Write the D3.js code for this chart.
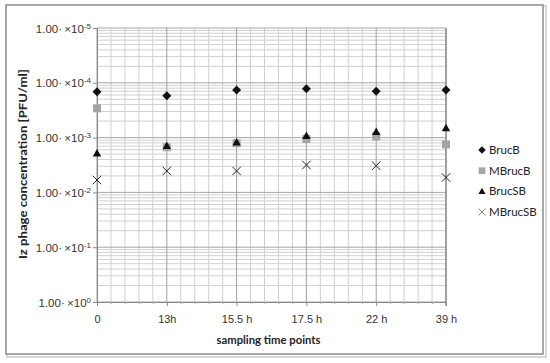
<!DOCTYPE html>
<html>
<head>
<meta charset="utf-8">
<script src="https://cdn.jsdelivr.net/npm/d3@7"></script>
<style>
  body { margin: 0; background: #fff; }
  svg { display: block; }
</style>
</head>
<body>
<div id="chart"></div>
<script>
// values
const categories = ['0', '13h', '15.5 h', '17.5 h', '22 h', '39 h'];
const brucB   = [1.45e-4, 1.72e-4, 1.35e-4, 1.28e-4, 1.43e-4, 1.35e-4];
const mBrucB  = [2.92e-4, 1.50e-3, 1.27e-3, 1.06e-3, 9.55e-4, 1.33e-3];
const brucSB  = [1.95e-3, 1.42e-3, 1.23e-3, 9.35e-4, 7.9e-4, 6.76e-4];
const mBrucSB = [5.94e-3, 4.06e-3, 4.06e-3, 3.16e-3, 3.26e-3, 5.35e-3];
const yTicks = [1e-5, 1e-4, 1e-3, 1e-2, 1e-1, 1];
const yExps  = ['-5', '-4', '-3', '-2', '-1', '0'];

const WIDTH = 550, HEIGHT = 363;
const PLOT = { left: 97, right: 446, top: 28, bottom: 302 };

// custom marker shapes
const diamond = { draw(ctx, size) { const r = Math.sqrt(size) / 2;
  ctx.moveTo(0, -r); ctx.lineTo(r, 0); ctx.lineTo(0, r); ctx.lineTo(-r, 0); ctx.closePath(); } };
const triangle = { draw(ctx, size) { const r = Math.sqrt(size) / 2;
  ctx.moveTo(0, -r * 1.05); ctx.lineTo(r, r * 0.7); ctx.lineTo(-r, r * 0.7); ctx.closePath(); } };
const cross = { draw(ctx, size) { const r = Math.sqrt(size) / 2;
  ctx.moveTo(-r, -r); ctx.lineTo(r, r); ctx.moveTo(r, -r); ctx.lineTo(-r, r); } };

const series = [
  { name: 'BrucB',   values: brucB,   type: diamond,  size: 81, fill: '#111', stroke: 'none' },
  { name: 'MBrucB',  values: mBrucB,  type: d3.symbolSquare, size: 64, fill: '#a5a5a5', stroke: 'none' },
  { name: 'BrucSB',  values: brucSB,  type: triangle, size: 72, fill: '#111', stroke: 'none' },
  { name: 'MBrucSB', values: mBrucSB, type: cross,    size: 72, fill: 'none', stroke: '#222' }
];

const svg = d3.select('#chart').append('svg')
  .attr('width', WIDTH)
  .attr('height', HEIGHT);

// outer frame with a soft shadow
svg.append('rect')
  .attr('x', 7).attr('y', 6).attr('width', 539).attr('height', 351)
  .attr('fill', 'none').attr('stroke', '#d8d8d8').attr('stroke-width', 2);
svg.append('rect')
  .attr('x', 6).attr('y', 5).attr('width', 537).attr('height', 349)
  .attr('fill', '#fff').attr('stroke', '#8c8c8c').attr('stroke-width', 1.5);

const x = d3.scalePoint().domain(categories).range([PLOT.left, PLOT.right]);
const xi = d3.scaleLinear().domain([0, categories.length - 1]).range([PLOT.left, PLOT.right]);
const y = d3.scaleLog().domain([1e-5, 1]).range([PLOT.top, PLOT.bottom]);

// minor gridlines
const minorX = d3.range(0, categories.length - 1, 0.2).filter(v => Math.abs(v - Math.round(v)) > 0.01);
const minorY = [];
for (let b = 0; b < 5; b++) for (let k = 2; k <= 9; k++) minorY.push(1 / (k * Math.pow(10, b)));

const grid = svg.append('g');
grid.selectAll('.vminor').data(minorX).enter().append('line')
  .attr('x1', d => xi(d)).attr('x2', d => xi(d))
  .attr('y1', PLOT.top).attr('y2', PLOT.bottom)
  .attr('stroke', '#d0d0d0').attr('stroke-width', 1);
grid.selectAll('.hminor').data(minorY).enter().append('line')
  .attr('x1', PLOT.left).attr('x2', PLOT.right)
  .attr('y1', d => y(d)).attr('y2', d => y(d))
  .attr('stroke', '#d0d0d0').attr('stroke-width', 1);
grid.selectAll('.hmajor').data(yTicks).enter().append('line')
  .attr('x1', PLOT.left).attr('x2', PLOT.right)
  .attr('y1', d => y(d)).attr('y2', d => y(d))
  .attr('stroke', '#a6a6a6').attr('stroke-width', 1);
grid.selectAll('.vmajor').data(categories).enter().append('line')
  .attr('x1', d => x(d)).attr('x2', d => x(d))
  .attr('y1', PLOT.top).attr('y2', PLOT.bottom)
  .attr('stroke', '#a0a0a0').attr('stroke-width', 1);
// right edge of plot is a bit darker
svg.append('line')
  .attr('x1', PLOT.right).attr('x2', PLOT.right)
  .attr('y1', PLOT.top).attr('y2', PLOT.bottom + 4)
  .attr('stroke', '#808080').attr('stroke-width', 1.2);

// axes
const xAxis = d3.axisBottom(x).tickSize(4).tickPadding(9);
const gx = svg.append('g')
  .attr('transform', `translate(0,${PLOT.bottom})`)
  .call(xAxis);
gx.select('.domain').attr('stroke', '#888');
gx.selectAll('.tick line').attr('stroke', '#888');
gx.selectAll('text')
  .attr('font-family', 'Liberation Sans, Arial, sans-serif')
  .attr('font-size', 11).attr('fill', '#333');
gx.selectAll('.minor').data(minorX).enter().append('line')
  .attr('x1', d => xi(d) + 0.5).attr('x2', d => xi(d) + 0.5)
  .attr('y1', 0).attr('y2', 2).attr('stroke', '#aaa');

const yAxis = d3.axisLeft(y).tickValues(yTicks).tickSize(4).tickPadding(4).tickFormat(() => '');
const gy = svg.append('g')
  .attr('transform', `translate(${PLOT.left},0)`)
  .call(yAxis);
gy.select('.domain').attr('stroke', '#888');
gy.selectAll('.tick line').attr('stroke', '#888');
gy.selectAll('.tick text').each(function(d, i) {
  const t = d3.select(this)
    .attr('font-family', 'Liberation Sans, Arial, sans-serif')
    .attr('font-size', 11.5).attr('fill', '#333')
    .attr('x', -6).attr('dy', '0.35em');
  t.text('1.00·\u2009×10');
  t.append('tspan').attr('font-size', 8).attr('dy', '-0.5em').text(yExps[i]);
});

// markers
series.forEach(s => {
  svg.append('g').selectAll('path')
    .data(s.values.map((v, i) => ({ c: categories[i], v })))
    .enter().append('path')
    .attr('d', d3.symbol().type(s.type).size(s.size))
    .attr('transform', d => `translate(${x(d.c)},${y(d.v)})`)
    .attr('fill', s.fill)
    .attr('stroke', s.stroke)
    .attr('stroke-width', 1);
});

// axis titles
svg.append('text')
  .attr('x', (PLOT.left + PLOT.right) / 2 - 3).attr('y', 344)
  .attr('text-anchor', 'middle')
  .attr('font-family', 'Lato, sans-serif').attr('font-weight', 'bold')
  .attr('font-size', 11.5).attr('fill', '#222')
  .attr('textLength', 104).attr('lengthAdjust', 'spacingAndGlyphs')
  .text('sampling time points');
svg.append('text')
  .attr('transform', `translate(27,${(PLOT.top + PLOT.bottom) / 2 - 1}) rotate(-90)`)
  .attr('text-anchor', 'middle')
  .attr('font-family', 'Lato, sans-serif').attr('font-weight', 'bold')
  .attr('font-size', 11.5).attr('fill', '#222')
  .attr('textLength', 190).attr('lengthAdjust', 'spacingAndGlyphs')
  .text('Iz phage concentration [PFU/ml]');

// legend
const legend = svg.append('g').attr('transform', 'translate(482,150)');
const item = legend.selectAll('g').data(series).enter().append('g')
  .attr('transform', (d, i) => `translate(0,${i * 20.7})`);
item.append('path')
  .attr('d', d => d3.symbol().type(d.type).size(d.size * 0.7)())
  .attr('fill', d => d.fill)
  .attr('stroke', d => d.name === 'MBrucSB' ? '#666' : d.stroke)
  .attr('stroke-width', 0.8);
item.append('text')
  .attr('x', 7).attr('dy', '0.35em')
  .attr('font-family', 'Lato, sans-serif').attr('font-size', 11.5).attr('fill', '#222')
  .text(d => d.name);
</script>
</body>
</html>
